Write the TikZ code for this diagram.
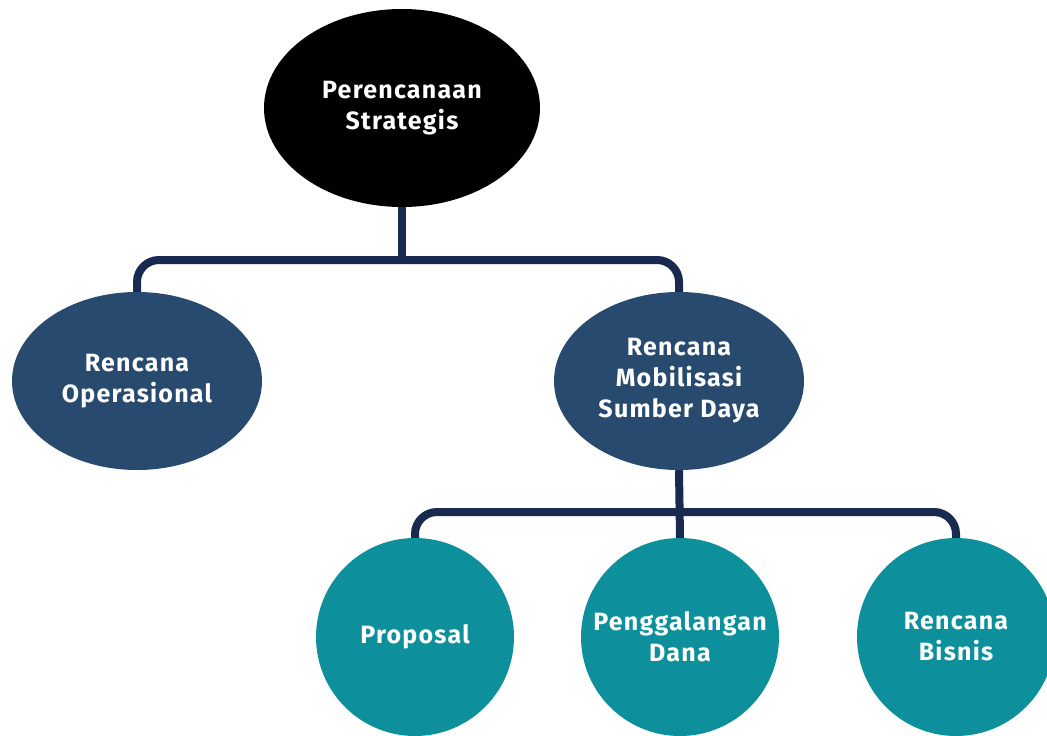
\documentclass[tikz,border=0pt]{standalone}
\usepackage{fontspec}
\setmainfont{Fira Sans}
\newfontfamily\labelfont{Fira Sans}[LetterSpace=5.0]
\usetikzlibrary{shapes.geometric}
\definecolor{navyline}{HTML}{192A51}
\definecolor{slateblue}{HTML}{284A6E}
\definecolor{tealfill}{HTML}{0E8F9C}
\begin{document}
\begin{tikzpicture}[x=1pt,y=1pt,
  label text/.style={text=white,font=\labelfont\fontsize{25}{31}\selectfont\bfseries,align=center},
  topnode/.style={ellipse,fill=black,minimum width=276pt,minimum height=198pt,inner sep=0pt,label text},
  midnode/.style={ellipse,fill=slateblue,minimum width=250pt,minimum height=178pt,inner sep=0pt,label text},
  leafnode/.style={circle,fill=tealfill,minimum size=198pt,inner sep=0pt,label text},
  conn/.style={draw=navyline,line width=8pt,rounded corners=22pt}]
\useasboundingbox (0,0) rectangle (1047,-736);

% junction points where the branches split
\coordinate (j1) at (402,-260);
\coordinate (j2) at (679,-512);

\node[topnode] (top) at (402,-108) {Perencanaan\\Strategis};
\node[midnode] (ops) at (137,-381) {Rencana\\Operasional};
\node[midnode] (mob) at (679,-381) {Rencana\\Mobilisasi\\Sumber Daya};
\node[leafnode] (prop) at (415,-637) {Proposal};
\node[leafnode] (dana) at (680,-637) {Penggalangan\\Dana};
\node[leafnode] (bis) at (956,-637) {Rencana\\Bisnis};

\draw[conn] (top.south) -- (j1);
\draw[conn] (j1) -| (ops.north);
\draw[conn] (j1) -| (mob.north);
\draw[conn] (mob.south) -- (dana.north);
\draw[conn] (j2) -| (prop.north);
\draw[conn] (j2) -| (bis.north);
\end{tikzpicture}
\end{document}
